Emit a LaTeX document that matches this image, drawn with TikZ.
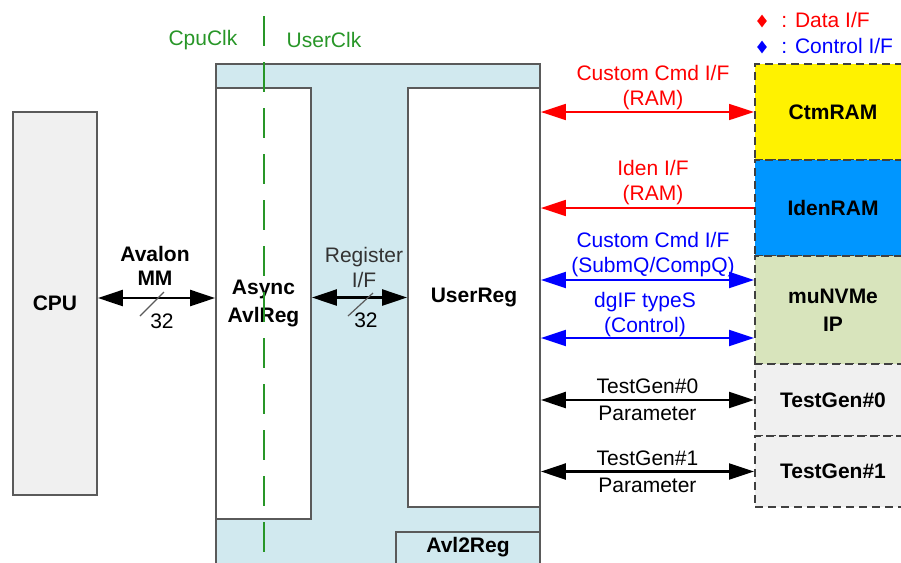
\documentclass[tikz,border=0pt]{standalone}
\usepackage{fontspec}
\setmainfont{Liberation Sans}
\usetikzlibrary{arrows.meta,shapes.geometric}
\definecolor{avlblue}{RGB}{209,233,239}
\definecolor{idenblue}{RGB}{0,150,255}
\definecolor{nvmegreen}{RGB}{216,228,188}
\definecolor{boxgray}{RGB}{240,240,240}
\definecolor{clkgreen}{RGB}{40,150,40}
\definecolor{edgegray}{RGB}{90,90,90}
\begin{document}
\begin{tikzpicture}[x=0.5pt,y=-0.5pt,
    >={Triangle[length=12.5pt,width=8pt]},
    every node/.style={font=\fontsize{10.5}{12.5}\selectfont,align=center},
    blk/.style={draw=edgegray,line width=0.9pt,inner sep=0pt,
      font=\fontsize{10.5}{14}\selectfont\bfseries},
    extbox/.style={draw=black!75,line width=1pt,dash pattern=on 4pt off 2.5pt,
      inner sep=0pt,minimum width=78pt,font=\fontsize{10.5}{14}\selectfont\bfseries},
    blkarr/.style={<->,line width=1.1pt},
    redarr/.style={line width=0.85pt,red},
    bluearr/.style={<->,line width=1pt,blue},
    buswidth/.style={edgegray,line width=0.6pt}]
  \useasboundingbox (0,0) rectangle (901,563);
  % Avl2Reg container
  \fill[avlblue] (216,64) rectangle (540,563);
  \draw[edgegray,line width=0.9pt] (216,563) -- (216,64) -- (540,64) -- (540,563);
  \node[blk,fill=boxgray,minimum width=42pt,minimum height=191.5pt] (cpu) at (55,303.5) {CPU};
  \node[blk,fill=white,minimum width=47.5pt,minimum height=215.5pt] (async) at (263.5,303.5) {Async\\AvlReg};
  \node[blk,fill=white,minimum width=66pt,minimum height=209.5pt] (userreg) at (474,297.5) {UserReg};
  \draw[edgegray,line width=0.9pt] (396,563) |- (540,532);
  \node[font=\fontsize{10.5}{14}\selectfont\bfseries] (avlname) at (468,547) {Avl2Reg};
  % clock domains
  \draw[clkgreen,line width=1pt,dash pattern=on 15pt off 8pt] (264,16) -- (264,552);
  \node[text=clkgreen] (cpuclk) at (203,40) {CpuClk};
  \node[text=clkgreen] (userclk) at (324,40) {UserClk};
  % external blocks
  \node[extbox,fill=yellow,minimum height=48pt] (ctmram) at (833,112) {CtmRAM};
  \node[extbox,fill=idenblue,minimum height=48pt] (idenram) at (833,208) {IdenRAM};
  \node[extbox,fill=nvmegreen,minimum height=54pt] (nvme) at (833,310) {muNVMe\\IP};
  \node[extbox,fill=boxgray,minimum height=36pt] (tg0) at (833,400) {TestGen\#0};
  \node[extbox,fill=boxgray,minimum height=35.5pt] (tg1) at (833,471.5) {TestGen\#1};
  \coordinate (cmdend) at ([yshift=15pt]nvme.west);
  \coordinate (dgend) at ([yshift=-14pt]nvme.west);
  % legend
  \node[diamond,fill=red,inner sep=0pt,minimum width=5pt,minimum height=6.5pt] (datamark) at (762,21) {};
  \node[anchor=west,inner sep=1pt,text=red] (datalbl) at (779,20) {: Data I/F};
  \node[diamond,fill=blue,inner sep=0pt,minimum width=5pt,minimum height=6.5pt] (ctlmark) at (762,47) {};
  \node[anchor=west,inner sep=1pt,text=blue] (ctllbl) at (779,46) {: Control I/F};
  % CPU side
  \draw[blkarr] ([yshift=2.75pt]cpu.east) -- ([yshift=2.75pt]async.west);
  \node[font=\fontsize{10.5}{12}\selectfont\bfseries] (avalon) at (155,266) {Avalon\\MM};
  \draw[buswidth] (140,316) -- (164,292);
  \node (avw) at (162,321) {32};
  \draw[blkarr] (async.east |- userreg.west) -- (userreg.west);
  \node[text=black!80] (regif) at (364,267) {Register\\I/F};
  \draw[buswidth] (348,316) -- (373,293);
  \node (regw) at (366,320) {32};
  % UserReg side
  \draw[redarr,<->] (userreg.east |- ctmram.west) -- (ctmram.west);
  \node[text=red] (ctmlbl) at (653,88) {Custom Cmd I/F\\(RAM)};
  \draw[redarr,<-] (userreg.east |- idenram.west) -- (idenram.west);
  \node[text=red] (idenlbl) at (653,183) {Iden I/F\\(RAM)};
  \draw[bluearr] (userreg.east |- cmdend) -- (cmdend);
  \node[text=blue] (cmdlbl) at (653,255) {Custom Cmd I/F\\(SubmQ/CompQ)};
  \draw[bluearr] (userreg.east |- dgend) -- (dgend);
  \node[text=blue] (dglbl) at (645,315) {dgIF typeS\\(Control)};
  \draw[blkarr] (userreg.east |- tg0.west) -- (tg0.west)
    node[midway,above,inner sep=2.5pt] (tg0top) {TestGen\#0}
    node[midway,below,inner sep=2.5pt] (tg0bot) {Parameter};
  \draw[blkarr] (userreg.east |- tg1.west) -- (tg1.west)
    node[midway,above,inner sep=2.5pt] (tg1top) {TestGen\#1}
    node[midway,below,inner sep=2.5pt] (tg1bot) {Parameter};
\end{tikzpicture}
\end{document}
